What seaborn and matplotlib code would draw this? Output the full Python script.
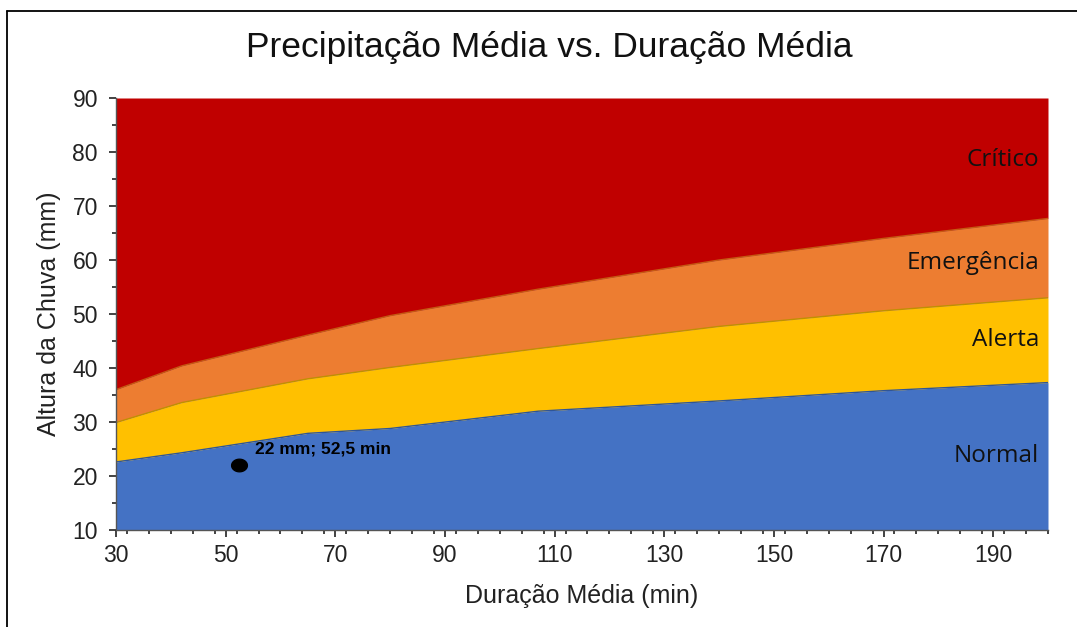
import numpy as np
import pandas as pd
import matplotlib
matplotlib.use("Agg")
import matplotlib.pyplot as plt
import seaborn as sns
from matplotlib.lines import Line2D
from matplotlib.path import Path
from matplotlib.ticker import MultipleLocator

# ---- data ----
duracao = [30, 42, 65, 80, 107, 140, 170, 200]
normal_top = [22.6, 24.3, 27.9, 28.8, 32.0, 33.9, 35.8, 37.3]
alerta_top = [29.9, 33.6, 38.0, 40.1, 43.6, 47.7, 50.6, 53.0]
emergencia_top = [36.0, 40.4, 46.1, 49.7, 54.6, 60.0, 64.0, 67.7]
critico_top = [90, 90, 90, 90, 90, 90, 90, 90]

zonas = ["Normal", "Alerta", "Emergência", "Crítico"]
cores = ["#4472C4", "#FFC000", "#ED7D31", "#C00000"]
bordas = ["#2F5597", "#BF9000", "#C55A11", "#A00000"]
rotulo_y = [23.7, 45.2, 59.4, 78.5]

ponto_duracao = [52.5]
ponto_altura = [22]
ponto_texto = "22 mm; 52,5 min"

titulo = "Precipitação Média vs. Duração Média"
xlabel = "Duração Média (min)"
ylabel = "Altura da Chuva (mm)"
xticks = [30, 50, 70, 90, 110, 130, 150, 170, 190]
yticks = [10, 20, 30, 40, 50, 60, 70, 80, 90]

# ---- plot ----
sns.set_theme(style="white")
plt.rcParams["font.family"] = ["Liberation Sans", "DejaVu Sans"]

fig = plt.figure(figsize=(10.77, 6.27), dpi=100)
ax = fig.add_axes([116 / 1077, 1 - 530 / 627, (1048 - 116) / 1077, (530 - 98) / 627])

df = pd.DataFrame({"x": duracao, "Normal": normal_top, "Alerta": alerta_top,
                   "Emergência": emergencia_top, "Crítico": critico_top})
baixo = [10] * len(duracao)
prev = baixo
for z, c, b in zip(zonas, cores, bordas):
    ax.fill_between(df["x"], prev, df[z], color=c, linewidth=0, zorder=1)
    if z != "Crítico":
        sns.lineplot(data=df, x="x", y=z, ax=ax, color=b, linewidth=1.0,
                     zorder=2, legend=False)
    prev = df[z]

# elliptical marker
t = np.linspace(0, 2 * np.pi, 60)
ell = Path(np.column_stack([np.cos(t) * 1.25, np.sin(t)]), closed=True)
sns.scatterplot(x=ponto_duracao, y=ponto_altura, ax=ax, marker=ell, s=130,
                color="black", edgecolor="black", zorder=4, legend=False)
ax.annotate(ponto_texto, xy=(ponto_duracao[0], ponto_altura[0]),
            xytext=(11, 8.5), textcoords="offset points",
            fontsize=12.5, fontweight="bold", color="black", zorder=5)

for z, yv in zip(zonas, rotulo_y):
    ax.text(198.4, yv, z, ha="right", va="center", fontsize=17.5,
            family=["Open Sans", "DejaVu Sans"], color="#111111", zorder=5)

ax.set_xlim(30, 200)
ax.set_ylim(10, 90)
ax.set_xticks(xticks)
ax.set_yticks(yticks)
ax.xaxis.set_minor_locator(MultipleLocator(4))
ax.yaxis.set_minor_locator(MultipleLocator(5))
ax.tick_params(axis="both", which="major", direction="out", length=5, width=1.2,
               color="#222222", labelsize=16.5, labelcolor="#222222",
               bottom=True, left=True)
ax.tick_params(axis="y", which="major", pad=8)
ax.tick_params(axis="x", which="major", pad=5)
ax.tick_params(axis="both", which="minor", direction="out", length=3, width=1.2,
               color="#222222", bottom=True, left=True)
for s in ["top", "right"]:
    ax.spines[s].set_visible(False)
for s in ["left", "bottom"]:
    ax.spines[s].set_color("#555555")
    ax.spines[s].set_linewidth(1.0)

ax.set_xlabel(xlabel, fontsize=18, color="#222222", labelpad=12)
ax.set_ylabel(ylabel, fontsize=18, color="#222222", labelpad=8)
fig.text(549 / 1077, 1 - 47 / 627, titulo, ha="center", va="center",
         fontsize=25.5, color="#111111")

# outer frame (left and top)
fig.add_artist(Line2D([7 / 1077, 7 / 1077], [0, 1 - 11 / 627],
                      transform=fig.transFigure, color="black", linewidth=1.3))
fig.add_artist(Line2D([7 / 1077, 1], [1 - 11 / 627, 1 - 11 / 627],
                      transform=fig.transFigure, color="black", linewidth=1.3))

fig.savefig("out.png", dpi=100)
